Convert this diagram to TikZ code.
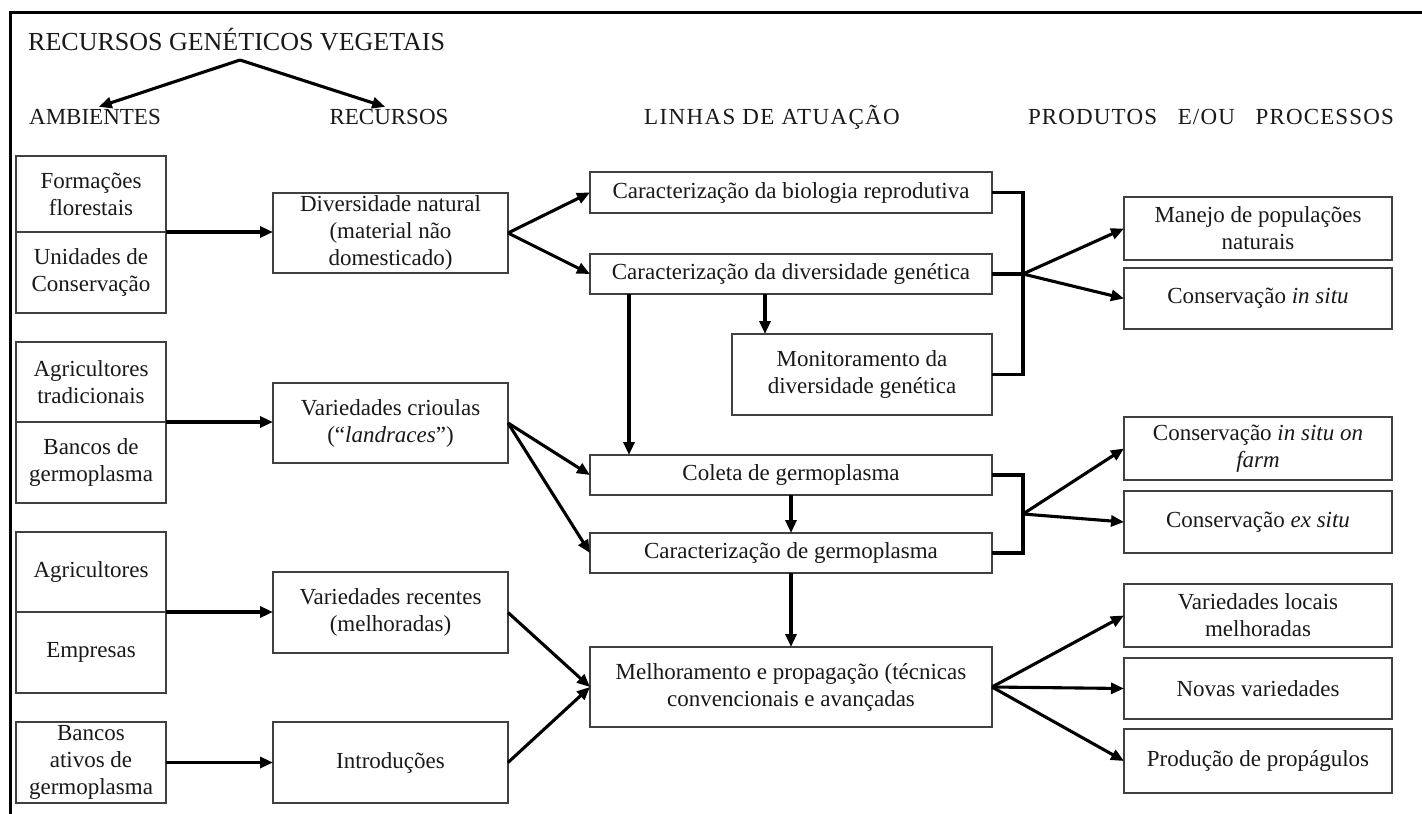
\documentclass[tikz,border=0pt]{standalone}
\usepackage{fontspec}
\setmainfont{Liberation Serif}
\usetikzlibrary{arrows.meta,calc}
\begin{document}
\begin{tikzpicture}[x=1pt,y=-1pt,
  box/.style={draw=black!75, line width=1.4pt, align=center, inner sep=0pt, outer sep=0pt,
    font=\fontsize{23}{27}\selectfont, text=black!90},
  hdr/.style={inner sep=1pt, font=\fontsize{23}{27}\selectfont, text=black!90},
  arr/.style={line width=3.1pt, -{Triangle[length=13pt,width=11pt]}},
  conn/.style={line width=3.1pt, line join=miter}]
\useasboundingbox (0,0) rectangle (1422,814);
\fill[white] (0,0) rectangle (1422,814);
% frame
\draw[line width=3pt] (10,814) -- (10,12) -- (1422,12);
% headers
\node[hdr, anchor=west, font=\fontsize{26}{30}\selectfont] (title) at (27,40) {RECURSOS GENÉTICOS VEGETAIS};
\node[hdr] (hAmb) at (95,117) {AMBIENTES};
\node[hdr] (hRec) at (389,117) {RECURSOS};
\node[hdr, font=\fontsize{23}{27}\selectfont\addfontfeature{LetterSpace=6}] (hLin) at (772,117) {LINHAS DE ATUAÇÃO};
\node[hdr, font=\fontsize{23}{27}\selectfont\addfontfeature{LetterSpace=5}] (hProd) at (1211,117) {PRODUTOS\hspace{0.9em}E/OU\hspace{0.9em}PROCESSOS};
\coordinate (apex) at (240,60);
\draw[arr, shorten >=4pt] (apex) -- (hAmb.north);
\draw[arr, shorten >=4pt] (apex) -- (hRec.north);
% AMBIENTES
\node[box, minimum width=150pt, minimum height=76pt] (A1) at (91,194) {Formações\\florestais};
\node[box, minimum width=150pt, minimum height=81pt] (A2) at (91,272.5) {Unidades de\\Conservação};
\node[box, minimum width=150pt, minimum height=80pt] (B1) at (91,382) {Agricultores\\tradicionais};
\node[box, minimum width=150pt, minimum height=81pt] (B2) at (91,462.5) {Bancos de\\germoplasma};
\node[box, minimum width=150pt, minimum height=80pt] (C1) at (91,572) {Agricultores};
\node[box, minimum width=150pt, minimum height=81pt] (C2) at (91,652.5) {Empresas};
\node[box, minimum width=150pt, minimum height=81pt] (D) at (91,762.5) {Bancos\\ativos de\\germoplasma};
% RECURSOS
\node[box, minimum width=235pt, minimum height=80pt] (R1) at (390.5,233) {Diversidade natural\\(material não\\domesticado)};
\node[box, minimum width=235pt, minimum height=80pt] (R2) at (390.5,423) {Variedades crioulas\\(“\textit{landraces}”)};
\node[box, minimum width=235pt, minimum height=81pt] (R3) at (390.5,612.5) {Variedades recentes\\(melhoradas)};
\node[box, minimum width=235pt, minimum height=81pt] (R4) at (390.5,762.5) {Introduções};
% LINHAS
\node[box, minimum width=402pt, minimum height=41pt] (L1) at (791,192.5) {Caracterização da biologia reprodutiva};
\node[box, minimum width=402pt, minimum height=40pt] (L2) at (791,274) {Caracterização da diversidade genética};
\node[box, minimum width=260pt, minimum height=81pt] (L3) at (862,374.5) {Monitoramento da\\diversidade genética};
\node[box, minimum width=402pt, minimum height=40pt] (L4) at (791,475) {Coleta de germoplasma};
\node[box, minimum width=402pt, minimum height=40pt] (L5) at (791,553) {Caracterização de germoplasma};
\node[box, minimum width=402pt, minimum height=80pt] (L6) at (791,687) {Melhoramento e propagação (técnicas\\convencionais e avançadas};
% PRODUTOS
\node[box, minimum width=268pt, minimum height=63pt] (P1) at (1258,228.5) {Manejo de populações\\naturais};
\node[box, minimum width=268pt, minimum height=61pt] (P2) at (1258,298.5) {Conservação \textit{in situ}};
\node[box, minimum width=268pt, minimum height=63pt] (P3) at (1258,448.5) {Conservação \textit{in situ on}\\\textit{farm}};
\node[box, minimum width=268pt, minimum height=62pt] (P4) at (1258,522) {Conservação \textit{ex situ}};
\node[box, minimum width=268pt, minimum height=63pt] (P5) at (1258,615.5) {Variedades locais\\melhoradas};
\node[box, minimum width=268pt, minimum height=61pt] (P6) at (1258,688.5) {Novas variedades};
\node[box, minimum width=268pt, minimum height=64pt] (P7) at (1258,761) {Produção de propágulos};
% left arrows
\draw[arr] (A1.south east) -- (A1.south east -| R1.west);
\draw[arr] (B1.south east) -- (B1.south east -| R2.west);
\draw[arr] (C1.south east) -- (C1.south east -| R3.west);
\draw[arr] (D.east) -- (R4.west);
% recursos -> linhas
\draw[arr] (R1.east) -- (L1.west);
\draw[arr] (R1.east) -- (L2.west);
\draw[arr] (R2.east) -- (L4.west);
\draw[arr] (R2.east) -- (L5.west);
\draw[arr] (R3.east) -- (L6.west);
\draw[arr] (R4.east) -- (L6.west);
% vertical arrows
\coordinate (d1) at (629,0);
\coordinate (d2) at (765,0);
\draw[arr] (L2.south -| d1) -- (L4.north -| d1);
\draw[arr] (L2.south -| d2) -- (L3.north -| d2);
\draw[arr] (L4.south) -- (L5.north);
\draw[arr] (L5.south) -- (L6.north);
% brackets
\coordinate (bx) at (1023,0);
\draw[conn] (L1.east) -- (L1.east -| bx) -- (L3.east -| bx) -- (L3.east);
\draw[conn] (L2.east) -- (L2.east -| bx) coordinate (f1);
\draw[arr] (f1) -- (P1.west);
\draw[arr] (f1) -- (P2.west);
\draw[conn] (L4.east) -- (L4.east -| bx) -- (L5.east -| bx) -- (L5.east);
\coordinate (f2) at ($(L4.east -| bx)!0.5!(L5.east -| bx)$);
\draw[arr] (f2) -- (P3.west);
\draw[arr] (f2) -- (P4.west);
% melhoramento outputs
\draw[arr] (L6.east) -- (P5.west);
\draw[arr] (L6.east) -- (P6.west);
\draw[arr] (L6.east) -- (P7.west);
\end{tikzpicture}
\end{document}
